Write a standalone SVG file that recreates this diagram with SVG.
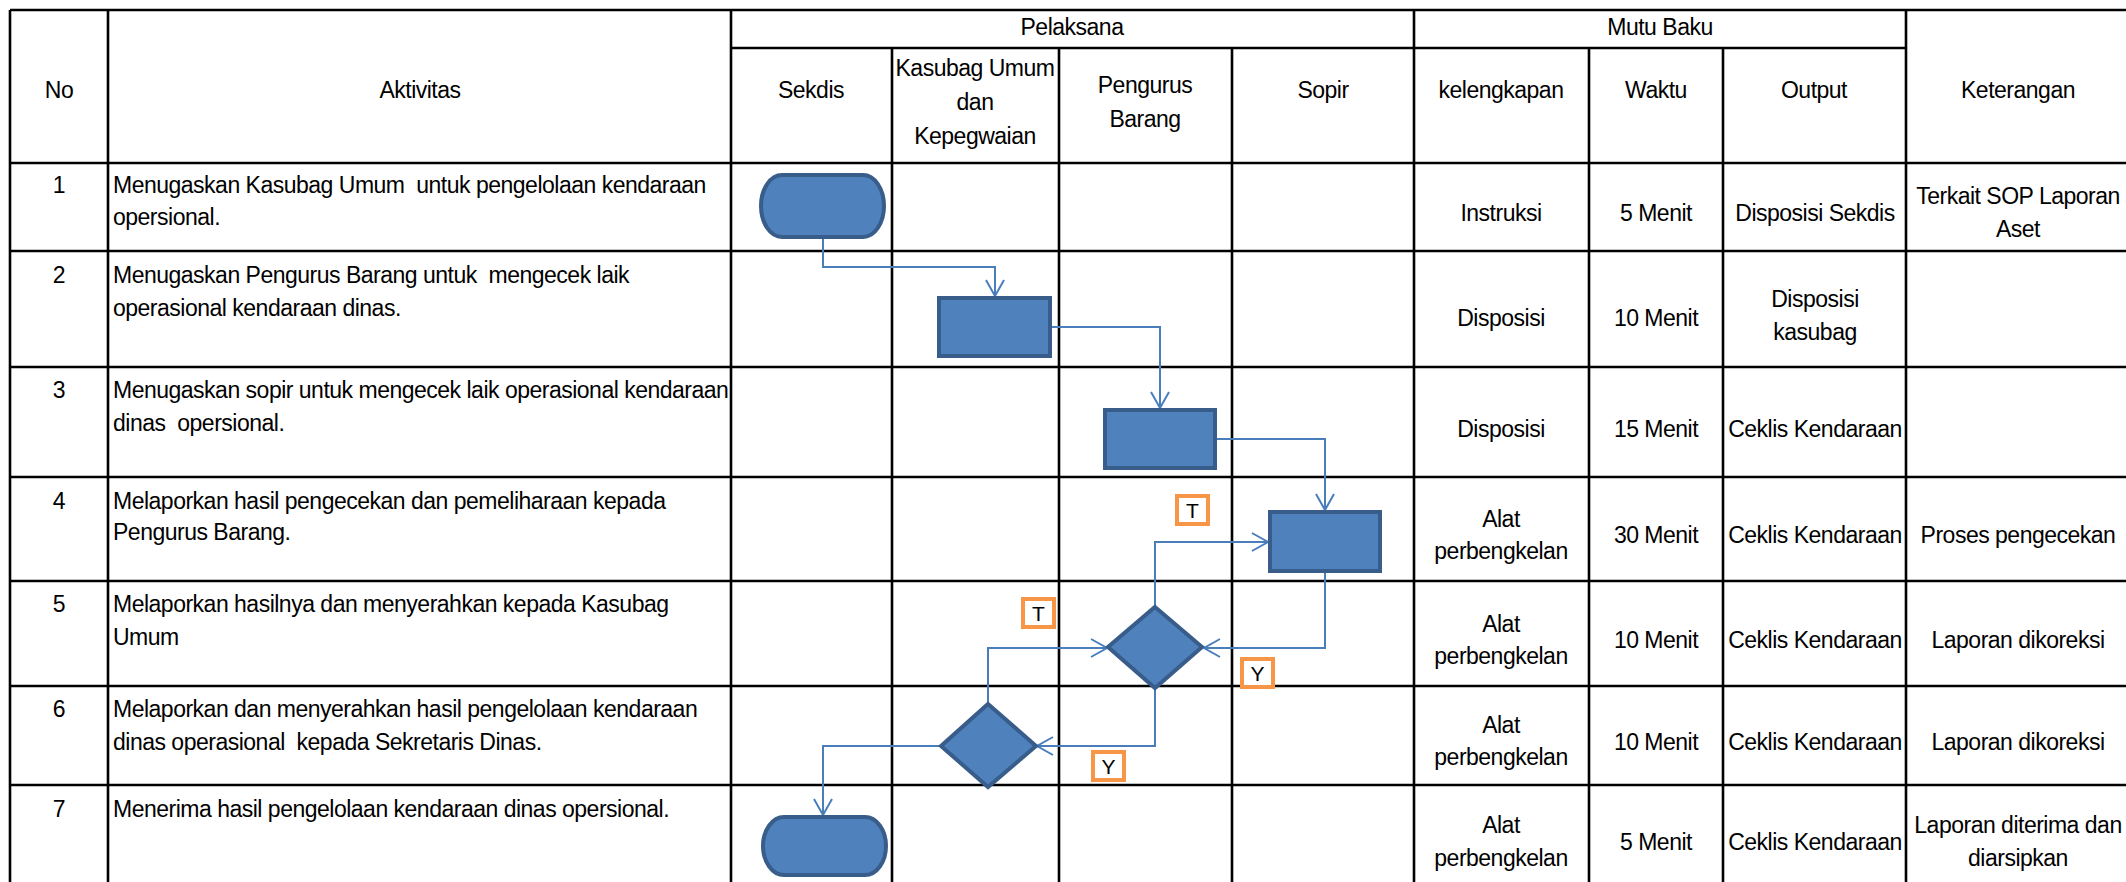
<svg xmlns="http://www.w3.org/2000/svg" width="2126" height="882" viewBox="0 0 2126 882">
<defs>
<style>
.grid{stroke:#000;stroke-width:2.6;fill:none}
.t{font-family:"Liberation Sans",Arial,sans-serif;font-size:23px;letter-spacing:-0.5px;fill:#000}
.c{text-anchor:middle}
.shape{fill:#4F81BD;stroke:#385D8A;stroke-width:4}
.conn{fill:none;stroke:#4A7EBB;stroke-width:2;marker-end:url(#arr)}
.lbl rect{fill:#fff;stroke:#F79646;stroke-width:4}
.lbl text{font-family:"Liberation Sans",Arial,sans-serif;font-size:21px;fill:#000;text-anchor:middle}
</style>
<marker id="arr" markerUnits="userSpaceOnUse" markerWidth="24" markerHeight="24" viewBox="-20 -12 24 24" refX="0" refY="0" orient="auto">
<path d="M -16 -9 L 0 0 L -16 9" fill="none" stroke="#4A7EBB" stroke-width="2"/>
</marker>
</defs>
<rect x="0" y="0" width="2126" height="882" fill="#fff"/>
<g id="table-grid" class="grid">
<line x1="10" y1="10" x2="2126" y2="10"/>
<line x1="731" y1="48" x2="1906" y2="48"/>
<line x1="10" y1="163" x2="2126" y2="163"/>
<line x1="10" y1="251" x2="2126" y2="251"/>
<line x1="10" y1="367" x2="2126" y2="367"/>
<line x1="10" y1="477" x2="2126" y2="477"/>
<line x1="10" y1="581" x2="2126" y2="581"/>
<line x1="10" y1="686" x2="2126" y2="686"/>
<line x1="10" y1="785" x2="2126" y2="785"/>
<line x1="10" y1="10" x2="10" y2="882"/>
<line x1="108" y1="10" x2="108" y2="882"/>
<line x1="731" y1="10" x2="731" y2="882"/>
<line x1="1414" y1="10" x2="1414" y2="882"/>
<line x1="1906" y1="10" x2="1906" y2="882"/>
<line x1="892" y1="48" x2="892" y2="882"/>
<line x1="1059" y1="48" x2="1059" y2="882"/>
<line x1="1232" y1="48" x2="1232" y2="882"/>
<line x1="1589" y1="48" x2="1589" y2="882"/>
<line x1="1723" y1="48" x2="1723" y2="882"/>
</g>
<g id="header" class="t">
<text class="c" x="59" y="98">No</text>
<text class="c" x="420" y="98">Aktivitas</text>
<text class="c" x="1072" y="35">Pelaksana</text>
<text class="c" x="1660" y="35">Mutu Baku</text>
<text class="c" x="811" y="98">Sekdis</text>
<text class="c" x="975" y="76">Kasubag Umum</text>
<text class="c" x="975" y="110">dan</text>
<text class="c" x="975" y="144">Kepegwaian</text>
<text class="c" x="1145" y="93">Pengurus</text>
<text class="c" x="1145" y="127">Barang</text>
<text class="c" x="1323" y="98">Sopir</text>
<text class="c" x="1501" y="98">kelengkapan</text>
<text class="c" x="1656" y="98">Waktu</text>
<text class="c" x="1814" y="98">Output</text>
<text class="c" x="2018" y="98">Keterangan</text>
</g>
<g id="col-no" class="t">
<text class="c" x="59" y="193">1</text>
<text class="c" x="59" y="283">2</text>
<text class="c" x="59" y="398">3</text>
<text class="c" x="59" y="509">4</text>
<text class="c" x="59" y="612">5</text>
<text class="c" x="59" y="717">6</text>
<text class="c" x="59" y="817">7</text>
</g>
<g id="col-aktivitas" class="t">
<text x="113" y="193" xml:space="preserve">Menugaskan Kasubag Umum  untuk pengelolaan kendaraan</text>
<text x="113" y="225">opersional.</text>
<text x="113" y="283" xml:space="preserve">Menugaskan Pengurus Barang untuk  mengecek laik</text>
<text x="113" y="316">operasional kendaraan dinas.</text>
<text x="113" y="398">Menugaskan sopir untuk mengecek laik operasional kendaraan</text>
<text x="113" y="431" xml:space="preserve">dinas  opersional.</text>
<text x="113" y="509">Melaporkan hasil pengecekan dan pemeliharaan kepada</text>
<text x="113" y="540">Pengurus Barang.</text>
<text x="113" y="612">Melaporkan hasilnya dan menyerahkan kepada Kasubag</text>
<text x="113" y="645">Umum</text>
<text x="113" y="717">Melaporkan dan menyerahkan hasil pengelolaan kendaraan</text>
<text x="113" y="750" xml:space="preserve">dinas operasional  kepada Sekretaris Dinas.</text>
<text x="113" y="817">Menerima hasil pengelolaan kendaraan dinas opersional.</text>
</g>
<g id="col-kelengkapan" class="t">
<text class="c" x="1501" y="221">Instruksi</text>
<text class="c" x="1501" y="326">Disposisi</text>
<text class="c" x="1501" y="437">Disposisi</text>
<text class="c" x="1501" y="527">Alat</text>
<text class="c" x="1501" y="559">perbengkelan</text>
<text class="c" x="1501" y="632">Alat</text>
<text class="c" x="1501" y="664">perbengkelan</text>
<text class="c" x="1501" y="733">Alat</text>
<text class="c" x="1501" y="765">perbengkelan</text>
<text class="c" x="1501" y="833">Alat</text>
<text class="c" x="1501" y="866">perbengkelan</text>
</g>
<g id="col-waktu" class="t">
<text class="c" x="1656" y="221">5 Menit</text>
<text class="c" x="1656" y="326">10 Menit</text>
<text class="c" x="1656" y="437">15 Menit</text>
<text class="c" x="1656" y="543">30 Menit</text>
<text class="c" x="1656" y="648">10 Menit</text>
<text class="c" x="1656" y="750">10 Menit</text>
<text class="c" x="1656" y="850">5 Menit</text>
</g>
<g id="col-output" class="t">
<text class="c" x="1815" y="221">Disposisi Sekdis</text>
<text class="c" x="1815" y="307">Disposisi</text>
<text class="c" x="1815" y="340">kasubag</text>
<text class="c" x="1815" y="437">Ceklis Kendaraan</text>
<text class="c" x="1815" y="543">Ceklis Kendaraan</text>
<text class="c" x="1815" y="648">Ceklis Kendaraan</text>
<text class="c" x="1815" y="750">Ceklis Kendaraan</text>
<text class="c" x="1815" y="850">Ceklis Kendaraan</text>
</g>
<g id="col-keterangan" class="t">
<text class="c" x="2018" y="204">Terkait SOP Laporan</text>
<text class="c" x="2018" y="237">Aset</text>
<text class="c" x="2018" y="543">Proses pengecekan</text>
<text class="c" x="2018" y="648">Laporan dikoreksi</text>
<text class="c" x="2018" y="750">Laporan dikoreksi</text>
<text class="c" x="2018" y="833">Laporan diterima dan</text>
<text class="c" x="2018" y="866">diarsipkan</text>
</g>
<g id="connectors">
<path class="conn" d="M 823 239 V 267 H 995 V 296"/>
<path class="conn" d="M 1052 327 H 1160 V 408"/>
<path class="conn" d="M 1217 439 H 1325 V 510"/>
<path class="conn" d="M 1155 606 V 542 H 1268"/>
<path class="conn" d="M 1325 573 V 648 H 1204"/>
<path class="conn" d="M 988 703 V 648 H 1107"/>
<path class="conn" d="M 1155 688 V 746 H 1037"/>
<path class="conn" d="M 940 746 H 823 V 815"/>
</g>
<g id="node-start">
<rect class="shape" x="761" y="175" width="123" height="62" rx="21" ry="31"/>
</g>
<g id="node-p2">
<rect class="shape" x="939" y="298" width="111" height="58"/>
</g>
<g id="node-p3">
<rect class="shape" x="1105" y="410" width="110" height="58"/>
</g>
<g id="node-p4">
<rect class="shape" x="1270" y="512" width="110" height="59"/>
</g>
<g id="node-d1">
<polygon class="shape" points="1155,607 1202,647 1155,688 1108,647"/>
</g>
<g id="node-d2">
<polygon class="shape" points="988,704 1036,746 988,787 941,746"/>
</g>
<g id="node-end">
<rect class="shape" x="763" y="817" width="123" height="58" rx="21" ry="29"/>
</g>
<g id="label-t1" class="lbl">
<rect x="1177" y="496" width="31" height="28"/>
<text x="1192.5" y="518">T</text>
</g>
<g id="label-t2" class="lbl">
<rect x="1023" y="599" width="31" height="28"/>
<text x="1038.5" y="621">T</text>
</g>
<g id="label-y1" class="lbl">
<rect x="1242" y="659" width="31" height="28"/>
<text x="1257.5" y="681">Y</text>
</g>
<g id="label-y2" class="lbl">
<rect x="1093" y="752" width="31" height="28"/>
<text x="1108.5" y="774">Y</text>
</g>
</svg>
